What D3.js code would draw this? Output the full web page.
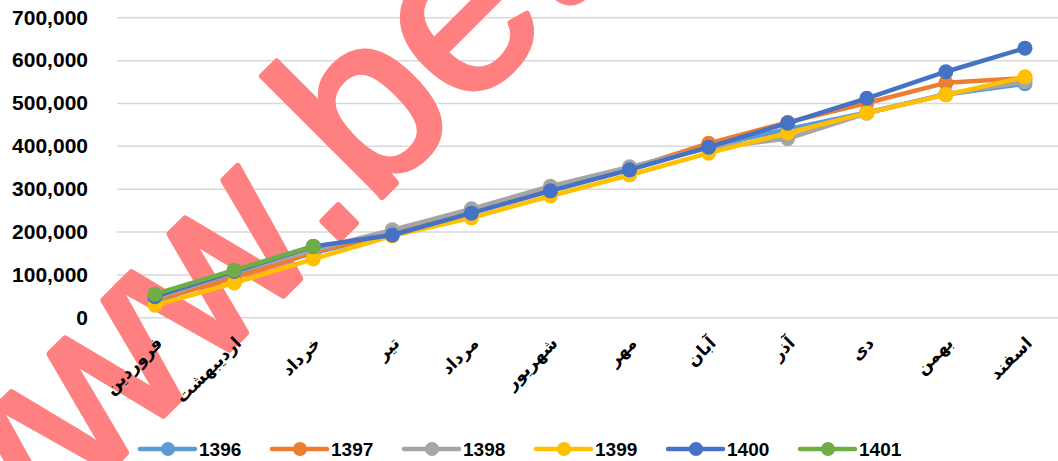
<!DOCTYPE html>
<html>
<head>
<meta charset="utf-8">
<script src="https://cdn.jsdelivr.net/npm/d3@7"></script>
<style>
  body { margin: 0; background: #fff; }
  svg { display: block; }
</style>
</head>
<body>
<div id="chart"></div>
<script>
// months (Persian calendar)
var months = ["فروردین", "اردیبهشت", "خرداد", "تیر", "مرداد", "شهریور",
              "مهر", "آبان", "آذر", "دی", "بهمن", "اسفند"];

var yTicks = [0, 100000, 200000, 300000, 400000, 500000, 600000, 700000];

var years = ["1396", "1397", "1398", "1399", "1400", "1401"];
var colors = ["#5B9BD5", "#ED7D31", "#A5A5A5", "#FFC000", "#4472C4", "#70AD47"];

var v1396 = [38000, 95000, 150000, 195000, 245000, 297000, 345000, 398000, 439000, 478000, 520000, 545000];
var v1397 = [40000, 92000, 152000, 196000, 246000, 298000, 347000, 406000, 455000, 500000, 547000, 558000];
var v1398 = [45000, 105000, 157000, 204000, 253000, 306000, 351000, 395000, 417000, 476000, 521000, 550000];
var v1399 = [28000, 80000, 136000, 190000, 232000, 283000, 332000, 383000, 430000, 477000, 519000, 561000];
var v1400 = [48000, 107000, 165000, 192000, 243000, 295000, 344000, 397000, 453000, 511000, 573000, 628000];
var v1401 = [54000, 110000, 166000];

var seriesValues = [v1396, v1397, v1398, v1399, v1400, v1401];

var width = 1058, height = 461;

var svg = d3.select("#chart")
            .append("svg")
            .attr("width", width)
            .attr("height", height);

var x = d3.scalePoint()
          .domain(months)
          .range([115.5, 1064.5])
          .padding(0.5);

var y = d3.scaleLinear()
          .domain([0, 700000])
          .range([317.3, 17.3]);

// gridlines + y labels
var yAxis = d3.axisLeft(y)
              .tickValues(yTicks)
              .tickSize(-(width - 117))
              .tickPadding(29)
              .tickFormat(d3.format(","));

var gy = svg.append("g")
            .attr("transform", "translate(117,0)")
            .call(yAxis);
gy.select(".domain").remove();
gy.selectAll("line").attr("stroke", "#D9D9D9").attr("stroke-width", 1.5);
gy.selectAll("text")
  .attr("font-family", "'Liberation Sans', Arial, sans-serif")
  .attr("font-size", "21px")
  .attr("font-weight", "bold")
  .attr("fill", "#000");

// watermark
var wm = svg.append("g")
            .attr("transform", "translate(325,254) rotate(-45)")
            .attr("fill", "#FF8080")
            .attr("stroke", "#FF8080")
            .attr("stroke-width", 6)
            .attr("stroke-linejoin", "round")
            .attr("font-family", "'Liberation Sans', Arial, sans-serif")
            .attr("font-size", "235px");
wm.append("text").attr("text-anchor", "end").text("www");
wm.append("text").attr("text-anchor", "start").text(".beta");

// x labels
var xAxis = d3.axisBottom(x).tickSize(0).tickPadding(0);
var gx = svg.append("g")
            .call(xAxis);
gx.select(".domain").remove();
gx.selectAll(".tick").attr("transform", function (d) {
    return "translate(" + (x(d) + 4) + ",340)";
});
gx.selectAll("text")
  .attr("y", 0)
  .attr("dy", "0.35em")
  .attr("transform", "rotate(-45)")
  .style("text-anchor", "end")
  .attr("font-family", "'DejaVu Sans', sans-serif")
  .attr("font-size", "17px")
  .attr("font-weight", "bold")
  .attr("fill", "#000");

// series
var line = d3.line()
             .x(function (d, i) { return x(months[i]); })
             .y(function (d) { return y(d); });

for (var s = 0; s < years.length; s++) {
    var vals = seriesValues[s];
    var g = svg.append("g");
    g.append("path")
     .attr("d", line(vals))
     .attr("fill", "none")
     .attr("stroke", colors[s])
     .attr("stroke-width", 4.5)
     .attr("stroke-linejoin", "round")
     .attr("stroke-linecap", "round");
    g.selectAll("circle")
     .data(vals)
     .enter()
     .append("circle")
     .attr("cx", function (d, i) { return x(months[i]); })
     .attr("cy", function (d) { return y(d); })
     .attr("r", 7.5)
     .attr("fill", colors[s]);
}

// legend
var legend = svg.append("g")
                .attr("transform", "translate(140,449)");
years.forEach(function (yr, i) {
    var item = legend.append("g").attr("transform", "translate(" + (i * 132) + ",0)");
    item.append("line")
        .attr("x1", 0).attr("x2", 55)
        .attr("y1", 0).attr("y2", 0)
        .attr("stroke", colors[i])
        .attr("stroke-width", 4.5)
        .attr("stroke-linecap", "round");
    item.append("circle")
        .attr("cx", 28).attr("cy", 0)
        .attr("r", 7)
        .attr("fill", colors[i]);
    item.append("text")
        .attr("x", 59).attr("y", 0)
        .attr("dy", "0.35em")
        .attr("font-family", "'Liberation Sans', Arial, sans-serif")
        .attr("font-size", "19px")
        .attr("font-weight", "bold")
        .attr("fill", "#000")
        .text(yr);
});
</script>
</body>
</html>
